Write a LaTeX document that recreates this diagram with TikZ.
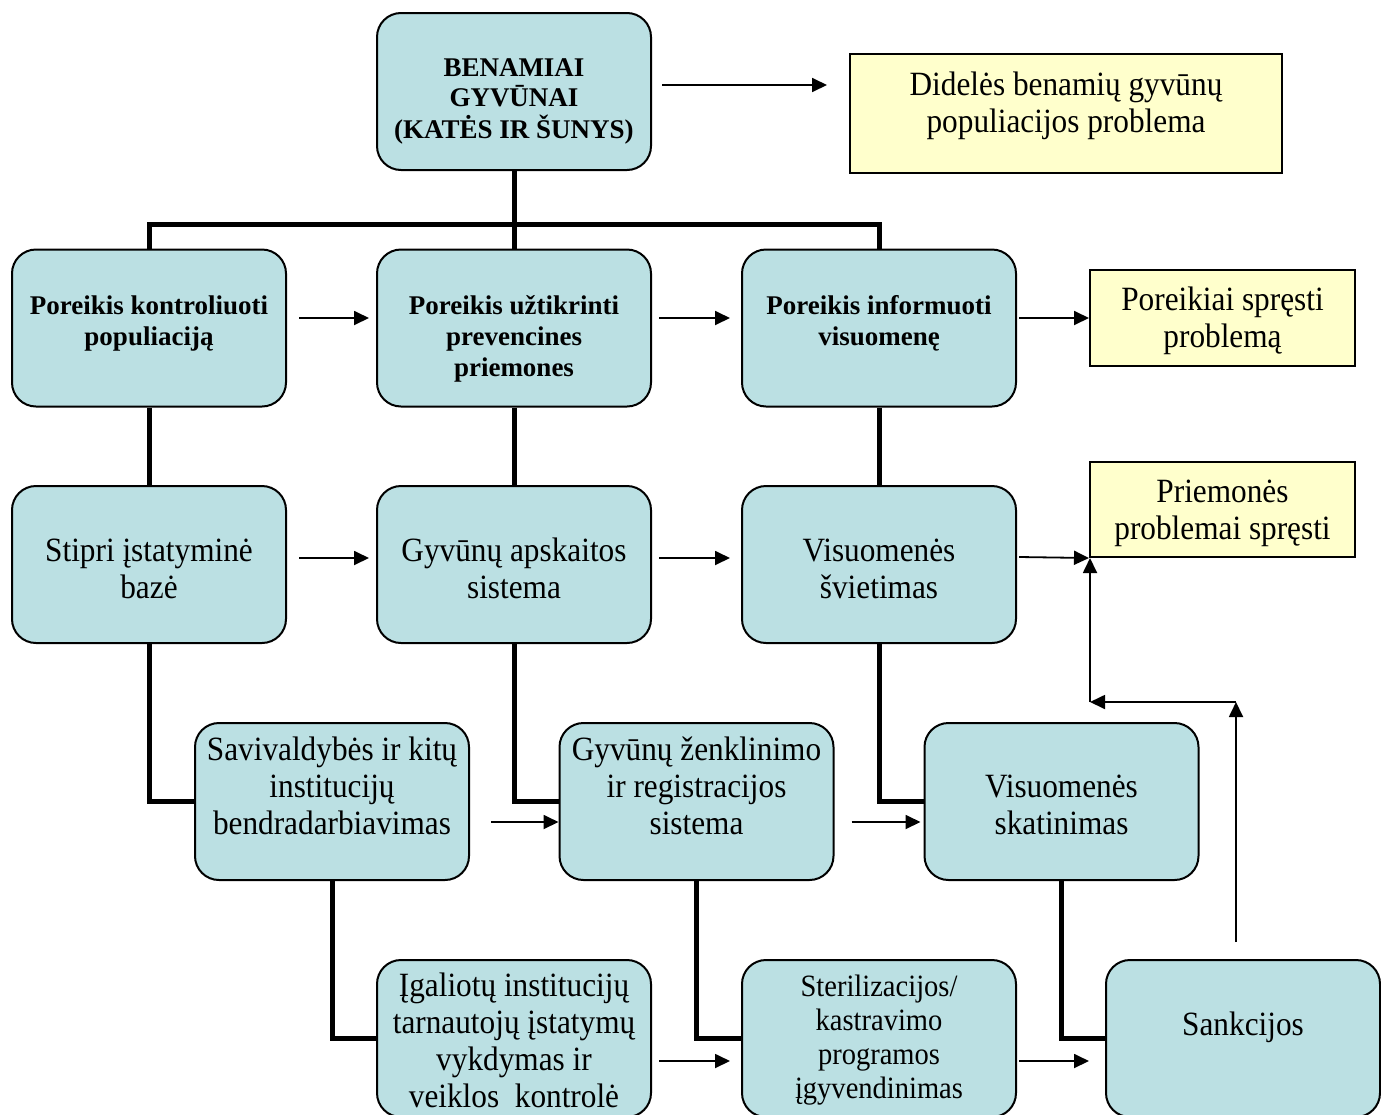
\documentclass[tikz,border=0pt]{standalone}
\usepackage{fontspec}
\setmainfont{Liberation Serif}
\newfontfamily\regfont{Liberation Serif}[FakeStretch=0.92]
\usetikzlibrary{arrows.meta}

\definecolor{boxblue}{RGB}{187,224,227}
\definecolor{noteyellow}{RGB}{255,255,204}

% text block inside a box, #1 = shift up
\newcommand{\boxtext}[2]{\raisebox{\dimexpr #1-0.25em-2pt\relax}[0pt][0pt]{\begin{tabular}{@{}c@{}}#2\end{tabular}}}

\tikzset{
  box/.style={draw, line width=1pt, fill=boxblue, rounded corners=12pt,
    minimum width=137pt, minimum height=78.5pt, inner sep=0pt,
    font=\regfont\fontsize{17}{18.5}\selectfont},
  boldbox/.style={box, font=\fontsize{13.5}{15.5}\selectfont\bfseries},
  note/.style={draw, line width=1pt, fill=noteyellow, inner sep=0pt,
    font=\regfont\fontsize{17}{18.5}\selectfont},
  link/.style={line width=2.5pt},
  arr/.style={-{Triangle[length=7.5pt,width=7pt]}, line width=0.9pt}
}

\begin{document}
\begin{tikzpicture}[x=0.5pt,y=-0.5pt]
\useasboundingbox (0,0) rectangle (1381,1114);

% top
\node [boldbox, font=\fontsize{13.5}{15}\selectfont\bfseries] (top) at (514,91.5)
  {\boxtext{-3.25pt}{BENAMIAI\\GYVŪNAI\\(KATĖS IR ŠUNYS)}};
\node [note, minimum width=216pt, minimum height=59.5pt] (y1) at (1066,113.5)
  {\boxtext{5.5pt}{Didelės benamių gyvūnų\\populiacijos problema}};

% needs
\node [boldbox] (r1a) at (149,328) {\boxtext{4pt}{Poreikis kontroliuoti\\populiaciją}};
\node [boldbox] (r1b) at (514,328) {\boxtext{-4pt}{Poreikis užtikrinti\\prevencines\\priemones}};
\node [boldbox] (r1c) at (879,328) {\boxtext{4pt}{Poreikis informuoti\\visuomenę}};
\node [note, minimum width=132.5pt, minimum height=48pt] (y2) at (1222.5,318)
  {\boxtext{0pt}{Poreikiai spręsti\\problemą}};

% measures
\node [box] (r2a) at (149,564.5) {\boxtext{-2.25pt}{Stipri įstatyminė\\bazė}};
\node [box] (r2b) at (514,564.5) {\boxtext{-2.25pt}{Gyvūnų apskaitos\\sistema}};
\node [box] (r2c) at (879,564.5) {\boxtext{-2.25pt}{Visuomenės\\švietimas}};
\node [note, minimum width=132.5pt, minimum height=47.5pt] (y3) at (1222.5,509.5)
  {\boxtext{0pt}{Priemonės\\problemai spręsti}};

\node [box] (r3a) at (332,801.5) {\boxtext{7.75pt}{Savivaldybės ir kitų\\institucijų\\bendradarbiavimas}};
\node [box] (r3b) at (696.5,801.5) {\boxtext{7.75pt}{Gyvūnų ženklinimo\\ir registracijos\\sistema}};
\node [box] (r3c) at (1061.5,801.5) {\boxtext{-1.75pt}{Visuomenės\\skatinimas}};

\node [box] (r4a) at (514,1038.5) {\boxtext{-1.25pt}{Įgaliotų institucijų\\tarnautojų įstatymų\\vykdymas ir\\veiklos \ kontrolė}};
\node [box, font=\regfont\fontsize{15.5}{17}\selectfont] (r4b) at (879,1038.5)
  {\boxtext{1.25pt}{Sterilizacijos/\\kastravimo\\programos\\įgyvendinimas}};
\node [box] (r4c) at (1243,1038.5) {\boxtext{7.25pt}{Sankcijos}};

% tree
\draw [link] (top.south) -- (r1b.north);
\draw [link] (r1a.north) -- ++(0,-24) -| (r1c.north);
\draw [link] (r1a.south) -- (r2a.north);
\draw [link] (r1b.south) -- (r2b.north);
\draw [link] (r1c.south) -- (r2c.north);
\draw [link] (r2a.south) |- (r3a.west);
\draw [link] (r2b.south) |- (r3b.west);
\draw [link] (r2c.south) |- (r3c.west);
\draw [link] (r3a.south) |- (r4a.west);
\draw [link] (r3b.south) |- (r4b.west);
\draw [link] (r3c.south) |- (r4c.west);

% arrows
\draw [arr] ([shift={(10,-6.5)}]top.east) -- ([shift={(-22,-28.5)}]y1.west);
\draw [arr] ([shift={(12,-10)}]r1a.east) -- ([shift={(-7,-10)}]r1b.west);
\draw [arr] ([shift={(7,-10)}]r1b.east) -- ([shift={(-11,-10)}]r1c.west);
\draw [arr] ([shift={(2,-10)}]r1c.east) -- (y2.west);
\draw [arr] ([shift={(12,-6.5)}]r2a.east) -- ([shift={(-7,-6.5)}]r2b.west);
\draw [arr] ([shift={(7,-6.5)}]r2b.east) -- ([shift={(-11,-6.5)}]r2c.west);
\draw [arr] ([shift={(2,-7.5)}]r2c.east) -- (y3.south west);
\draw [arr] ([shift={(21,20.5)}]r3a.east) -- ([yshift=-10.25pt]r3b.west);
\draw [arr] ([shift={(17,20.5)}]r3b.east) -- ([shift={(-3,20.5)}]r3c.west);
\draw [arr] ([shift={(7,22.5)}]r4a.east) -- ([shift={(-11,22.5)}]r4b.west);
\draw [arr] ([shift={(2,22.5)}]r4b.east) -- ([shift={(-16,22.5)}]r4c.west);

% feedback from sanctions
\coordinate (fbstart) at (1236,942);
\coordinate (fbturn) at (1236,702);
\coordinate (fbcorner) at (1090,702);
\draw [arr] (fbstart) -- (fbturn);
\draw [arr] (fbturn) -- (fbcorner);
\draw [arr] (fbcorner) -- (fbcorner |- y3.south);
\end{tikzpicture}
\end{document}
